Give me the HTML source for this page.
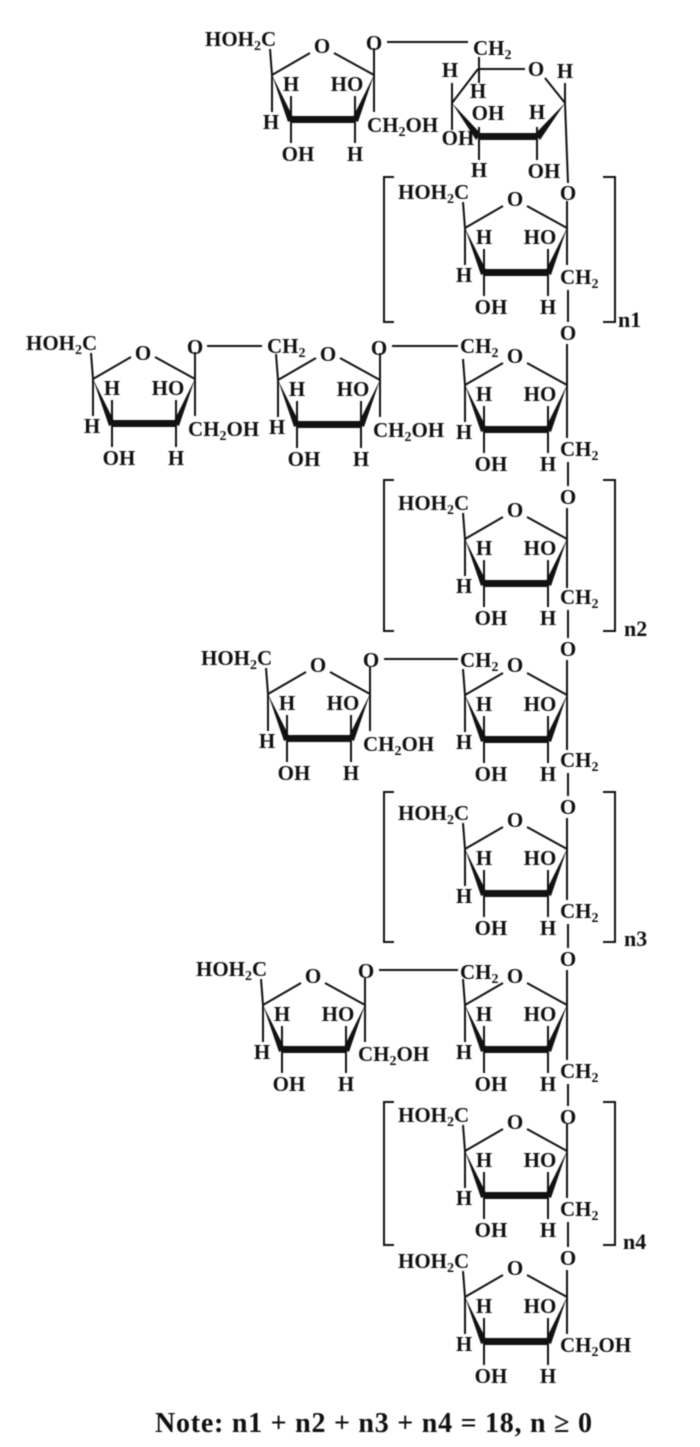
<!DOCTYPE html>
<html><head><meta charset="utf-8"><style>
html,body{margin:0;padding:0;background:#fff}
svg{display:block;filter:blur(.45px)}
text{font-family:"Liberation Serif",serif;font-weight:bold;font-size:21px;fill:#111}
.m{text-anchor:middle}
.n{font-size:22px}
line,path.l{stroke:#111;stroke-width:2;fill:none}
</style></head><body>
<svg width="700" height="1447" viewBox="0 0 700 1447" xmlns="http://www.w3.org/2000/svg">
<defs><g id="r">
<line x1="0" y1="0" x2="38" y2="-22"/><line x1="62" y1="-22" x2="102" y2="0"/>
<polygon points="0,0 16,47 22,44" fill="#111"/><polygon points="102,0 86,47 80,44" fill="#111"/>
<rect x="18" y="41" width="66" height="7" fill="#111"/>
<line x1="0" y1="0" x2="0" y2="37"/><line x1="0" y1="0" x2="-2" y2="-26"/>
<line x1="19" y1="45" x2="19" y2="21"/><line x1="83" y1="45" x2="83" y2="21"/>
<line x1="19" y1="45" x2="19" y2="68"/><line x1="83" y1="45" x2="83" y2="68"/>
<line x1="102" y1="0" x2="102" y2="-27"/><line x1="102" y1="0" x2="102" y2="37"/>
</g></defs>

<!-- top fructose + glucose -->
<g transform="translate(272,75)"><use href="#r"/>
<text x="-67" y="-29">HOH<tspan dy="4" font-size="14">2</tspan><tspan dy="-4">C</tspan></text><text class="m" x="50" y="-22">O</text><text class="m" x="102" y="-25">O</text><text class="m" x="-1" y="54">H</text><text class="m" x="19" y="16">H</text><text class="m" x="75" y="16">HO</text><text class="m" x="26" y="86">OH</text><text class="m" x="83" y="86">H</text><text x="95" y="57">CH<tspan dy="4" font-size="14">2</tspan><tspan dy="-4">OH</tspan></text></g>
<line x1="387" y1="42" x2="468" y2="42"/>
<text x="473" y="55">CH<tspan dy="4" font-size="14">2</tspan></text>
<line x1="478" y1="69" x2="525" y2="69"/><line x1="545" y1="78" x2="565" y2="103"/><line x1="478" y1="69" x2="452" y2="103"/>
<polygon points="452,103 476,140 481,134" fill="#111"/><polygon points="565,103 540,140 535,134" fill="#111"/>
<rect x="478" y="133" width="60" height="7" fill="#111"/>
<line x1="479" y1="57" x2="479" y2="83"/><line x1="452" y1="83" x2="452" y2="130"/>
<line x1="479" y1="127" x2="479" y2="160"/><line x1="537" y1="127" x2="537" y2="160"/>
<line x1="565" y1="83" x2="565" y2="103"/><line x1="565" y1="103" x2="568" y2="183"/>
<text class="m" x="478" y="98">H</text><text class="m" x="450" y="77">H</text><text class="m" x="536" y="76">O</text><text class="m" x="565" y="78">H</text>
<text class="m" x="488" y="120">OH</text><text class="m" x="537" y="119">H</text><text class="m" x="458" y="145">OH</text><text class="m" x="479" y="177">H</text><text class="m" x="544" y="178">OH</text>

<!-- R1 -->
<g transform="translate(465,228)"><use href="#r"/>
<text x="-67" y="-29">HOH<tspan dy="4" font-size="14">2</tspan><tspan dy="-4">C</tspan></text><text class="m" x="50" y="-22">O</text><text class="m" x="103" y="-28">O</text><text class="m" x="-1" y="54">H</text><text class="m" x="19" y="16">H</text><text class="m" x="75" y="16">HO</text><text class="m" x="26" y="86">OH</text><text class="m" x="83" y="86">H</text><text x="95" y="56">CH<tspan dy="4" font-size="14">2</tspan></text></g>
<line x1="568" y1="290" x2="568" y2="322"/><text class="m" x="568" y="340">O</text>
<path class="l" d="M394,177H384V322H394M603,177H615V322H603"/>
<text class="n" x="618" y="327">n1</text>

<!-- row 2 -->
<g transform="translate(93,379)"><use href="#r"/>
<text x="-67" y="-29">HOH<tspan dy="4" font-size="14">2</tspan><tspan dy="-4">C</tspan></text><text class="m" x="50" y="-19">O</text><text class="m" x="102" y="-25">O</text><text class="m" x="-1" y="54">H</text><text class="m" x="19" y="16">H</text><text class="m" x="75" y="16">HO</text><text class="m" x="26" y="86">OH</text><text class="m" x="83" y="86">H</text><text x="95" y="57">CH<tspan dy="4" font-size="14">2</tspan><tspan dy="-4">OH</tspan></text></g>
<line x1="207" y1="346" x2="262" y2="346"/>
<text x="267" y="353">CH<tspan dy="4" font-size="14">2</tspan></text>
<g transform="translate(278,380)"><use href="#r"/>
<text class="m" x="50" y="-19">O</text><text class="m" x="101" y="-25">O</text><text class="m" x="-1" y="54">H</text><text class="m" x="19" y="16">H</text><text class="m" x="75" y="16">HO</text><text class="m" x="26" y="86">OH</text><text class="m" x="83" y="86">H</text><text x="95" y="57">CH<tspan dy="4" font-size="14">2</tspan><tspan dy="-4">OH</tspan></text></g>
<line x1="392" y1="346" x2="458" y2="346"/>
<text x="460" y="353">CH<tspan dy="4" font-size="14">2</tspan></text>
<!-- R2 -->
<line x1="567" y1="344" x2="567" y2="385"/>
<line x1="567" y1="385" x2="567" y2="438"/>
<g transform="translate(465,385)"><use href="#r"/>
<text class="m" x="50" y="-22">O</text><text class="m" x="-1" y="54">H</text><text class="m" x="19" y="16">H</text><text class="m" x="75" y="16">HO</text><text class="m" x="26" y="86">OH</text><text class="m" x="83" y="86">H</text><text x="95" y="71">CH<tspan dy="4" font-size="14">2</tspan></text></g>
<line x1="568" y1="462" x2="568" y2="486"/><text class="m" x="568" y="504">O</text>

<!-- R3 -->
<line x1="567" y1="508" x2="567" y2="539"/>
<line x1="567" y1="539" x2="567" y2="588"/>
<g transform="translate(465,539)"><use href="#r"/>
<text x="-67" y="-29">HOH<tspan dy="4" font-size="14">2</tspan><tspan dy="-4">C</tspan></text><text class="m" x="50" y="-22">O</text><text class="m" x="-1" y="54">H</text><text class="m" x="19" y="16">H</text><text class="m" x="75" y="16">HO</text><text class="m" x="26" y="86">OH</text><text class="m" x="83" y="86">H</text><text x="95" y="65">CH<tspan dy="4" font-size="14">2</tspan></text></g>
<line x1="568" y1="610" x2="568" y2="638"/><text class="m" x="568" y="656">O</text>
<path class="l" d="M394,480H384V631H394M603,480H615V631H603"/>
<text class="n" x="624" y="636">n2</text>

<!-- row 3 -->
<g transform="translate(268,694)"><use href="#r"/>
<text x="-67" y="-29">HOH<tspan dy="4" font-size="14">2</tspan><tspan dy="-4">C</tspan></text><text class="m" x="50" y="-22">O</text><text class="m" x="103" y="-27">O</text><text class="m" x="-1" y="54">H</text><text class="m" x="19" y="16">H</text><text class="m" x="75" y="16">HO</text><text class="m" x="26" y="86">OH</text><text class="m" x="83" y="86">H</text><text x="95" y="57">CH<tspan dy="4" font-size="14">2</tspan><tspan dy="-4">OH</tspan></text></g>
<line x1="384" y1="659" x2="458" y2="659"/>
<text x="460" y="667">CH<tspan dy="4" font-size="14">2</tspan></text>
<!-- R4 -->
<line x1="567" y1="660" x2="567" y2="695"/>
<line x1="567" y1="695" x2="567" y2="750"/>
<g transform="translate(465,695)"><use href="#r"/>
<text class="m" x="50" y="-23">O</text><text class="m" x="-1" y="54">H</text><text class="m" x="19" y="16">H</text><text class="m" x="75" y="16">HO</text><text class="m" x="26" y="86">OH</text><text class="m" x="83" y="86">H</text><text x="95" y="72">CH<tspan dy="4" font-size="14">2</tspan></text></g>
<line x1="568" y1="773" x2="568" y2="796"/><text class="m" x="568" y="814">O</text>

<!-- R5 -->
<line x1="567" y1="818" x2="567" y2="849"/>
<line x1="567" y1="849" x2="567" y2="900"/>
<g transform="translate(465,849)"><use href="#r"/>
<text x="-67" y="-29">HOH<tspan dy="4" font-size="14">2</tspan><tspan dy="-4">C</tspan></text><text class="m" x="50" y="-22">O</text><text class="m" x="-1" y="54">H</text><text class="m" x="19" y="16">H</text><text class="m" x="75" y="16">HO</text><text class="m" x="26" y="86">OH</text><text class="m" x="83" y="86">H</text><text x="95" y="69">CH<tspan dy="4" font-size="14">2</tspan></text></g>
<line x1="568" y1="924" x2="568" y2="948"/><text class="m" x="568" y="966">O</text>
<path class="l" d="M394,792H384V942H394M603,792H615V942H603"/>
<text class="n" x="624" y="946">n3</text>

<!-- row 4 -->
<g transform="translate(263,1005)"><use href="#r"/>
<text x="-67" y="-29">HOH<tspan dy="4" font-size="14">2</tspan><tspan dy="-4">C</tspan></text><text class="m" x="50" y="-22">O</text><text class="m" x="103" y="-27">O</text><text class="m" x="-1" y="54">H</text><text class="m" x="19" y="16">H</text><text class="m" x="75" y="16">HO</text><text class="m" x="26" y="86">OH</text><text class="m" x="83" y="86">H</text><text x="95" y="56">CH<tspan dy="4" font-size="14">2</tspan><tspan dy="-4">OH</tspan></text></g>
<line x1="379" y1="970" x2="458" y2="970"/>
<text x="460" y="979">CH<tspan dy="4" font-size="14">2</tspan></text>
<!-- R6 -->
<line x1="567" y1="970" x2="567" y2="1005"/>
<line x1="567" y1="1005" x2="567" y2="1060"/>
<g transform="translate(465,1005)"><use href="#r"/>
<text class="m" x="50" y="-22">O</text><text class="m" x="-1" y="54">H</text><text class="m" x="19" y="16">H</text><text class="m" x="75" y="16">HO</text><text class="m" x="26" y="86">OH</text><text class="m" x="83" y="86">H</text><text x="95" y="73">CH<tspan dy="4" font-size="14">2</tspan></text></g>
<line x1="568" y1="1084" x2="568" y2="1106"/><text class="m" x="568" y="1124">O</text>

<!-- R7 -->
<line x1="567" y1="1128" x2="567" y2="1151"/>
<line x1="567" y1="1151" x2="567" y2="1198"/>
<g transform="translate(465,1151)"><use href="#r"/>
<text x="-67" y="-29">HOH<tspan dy="4" font-size="14">2</tspan><tspan dy="-4">C</tspan></text><text class="m" x="50" y="-22">O</text><text class="m" x="-1" y="54">H</text><text class="m" x="19" y="16">H</text><text class="m" x="75" y="16">HO</text><text class="m" x="26" y="86">OH</text><text class="m" x="83" y="86">H</text><text x="95" y="65">CH<tspan dy="4" font-size="14">2</tspan></text></g>
<line x1="568" y1="1222" x2="568" y2="1247"/><text class="m" x="568" y="1265">O</text>
<path class="l" d="M394,1102H384V1245H394M603,1102H615V1245H603"/>
<text class="n" x="623" y="1249">n4</text>

<!-- R8 -->
<g transform="translate(465,1297)"><use href="#r"/>
<text x="-67" y="-29">HOH<tspan dy="4" font-size="14">2</tspan><tspan dy="-4">C</tspan></text><text class="m" x="50" y="-22">O</text><text class="m" x="-1" y="54">H</text><text class="m" x="19" y="16">H</text><text class="m" x="75" y="16">HO</text><text class="m" x="26" y="86">OH</text><text class="m" x="83" y="86">H</text><text x="95" y="55">CH<tspan dy="4" font-size="14">2</tspan><tspan dy="-4">OH</tspan></text></g>

<text x="155" y="1432" style="font-size:28px" textLength="437" lengthAdjust="spacing">Note: n1 + n2 + n3 + n4 = 18, n ≥ 0</text>
</svg>
</body></html>
